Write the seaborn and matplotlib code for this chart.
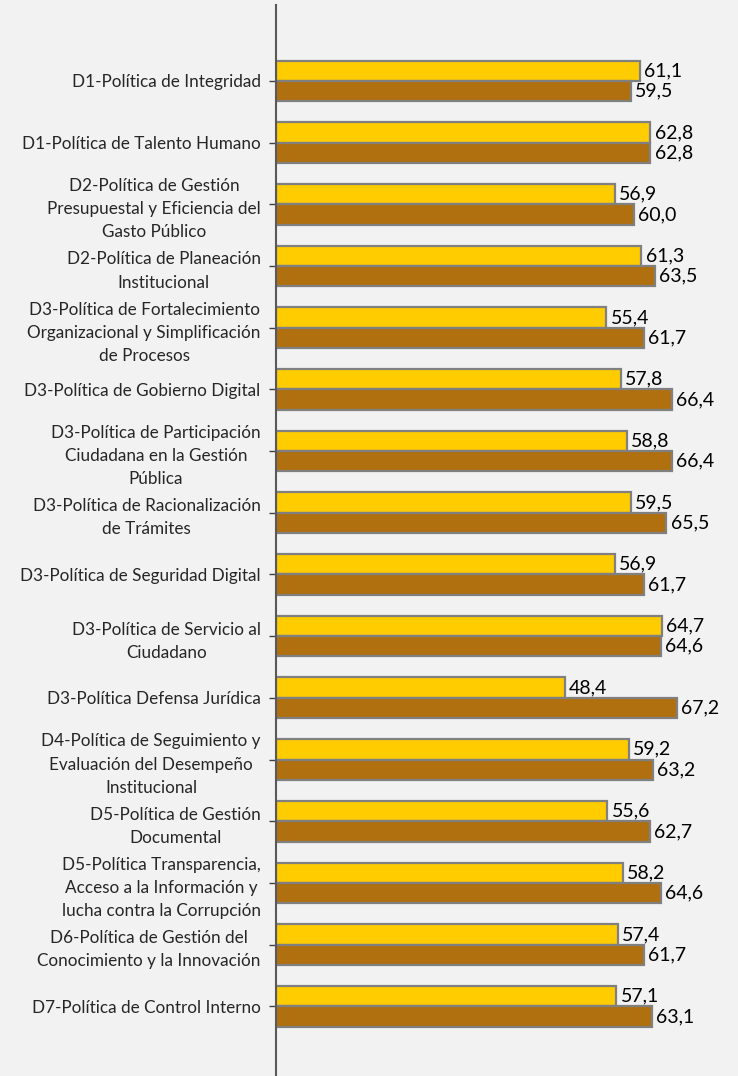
import pandas as pd
import matplotlib
matplotlib.use("Agg")
import matplotlib.pyplot as plt
import seaborn as sns

categorias = [
    "D1-Política de Integridad",
    "D1-Política de Talento Humano",
    "D2-Política de Gestión\nPresupuestal y Eficiencia del\nGasto Público",
    "D2-Política de Planeación\nInstitucional",
    "D3-Política de Fortalecimiento\nOrganizacional y Simplificación\nde Procesos",
    "D3-Política de Gobierno Digital",
    "D3-Política de Participación\nCiudadana en la Gestión\nPública",
    "D3-Política de Racionalización\nde Trámites",
    "D3-Política de Seguridad Digital",
    "D3-Política de Servicio al\nCiudadano",
    "D3-Política Defensa Jurídica",
    "D4-Política de Seguimiento y\nEvaluación del Desempeño\nInstitucional",
    "D5-Política de Gestión\nDocumental",
    "D5-Política Transparencia,\nAcceso a la Información y\nlucha contra la Corrupción",
    "D6-Política de Gestión del\nConocimiento y la Innovación",
    "D7-Política de Control Interno",
]
serie_1 = [61.1, 62.8, 56.9, 61.3, 55.4, 57.8, 58.8, 59.5, 56.9, 64.7, 48.4, 59.2, 55.6, 58.2, 57.4, 57.1]
serie_2 = [59.5, 62.8, 60.0, 63.5, 61.7, 66.4, 66.4, 65.5, 61.7, 64.6, 67.2, 63.2, 62.7, 64.6, 61.7, 63.1]
series = ["Serie 1", "Serie 2"]
colores = ["#FFCC00", "#B07010"]

df = pd.DataFrame({
    "categoria": categorias * 2,
    "valor": serie_1 + serie_2,
    "serie": [series[0]] * len(categorias) + [series[1]] * len(categorias),
})

sns.set_style("white")
plt.rcParams["font.family"] = ["Lato", "DejaVu Sans"]

fig = plt.figure(figsize=(7.38, 10.76), dpi=100)
fig.patch.set_facecolor("#F2F2F2")
ax = fig.add_axes([276 / 738, 0, (738 - 276) / 738, (1076 - 5) / 1076])
ax.set_facecolor("#F2F2F2")

sns.barplot(data=df, y="categoria", x="valor", hue="serie", palette=colores,
            orient="h", width=0.66, edgecolor="#808080", linewidth=1.6,
            saturation=1, legend=False, ax=ax)

for cont in ax.containers:
    labels = [f"{v:.1f}".replace(".", ",") for v in cont.datavalues]
    ax.bar_label(cont, labels=labels, padding=3, fontsize=14, color="black")

ax.set_xlim(0, 77.5)
ax.set_ylim(len(categorias) - 1 + 1.13, -1.23)
ax.set_xlabel("")
ax.set_ylabel("")
ax.set_xticks([])
ax.tick_params(axis="y", length=5, width=1, color="#404040", pad=6, labelsize=12.3, left=True)
for lbl in ax.get_yticklabels():
    lbl.set_multialignment("center")
    lbl.set_linespacing(1.55)
for s in ["top", "right", "bottom"]:
    ax.spines[s].set_visible(False)
ax.spines["left"].set_color("#595959")
ax.spines["left"].set_linewidth(1.5)

fig.savefig("out.png", dpi=100, facecolor=fig.get_facecolor())
